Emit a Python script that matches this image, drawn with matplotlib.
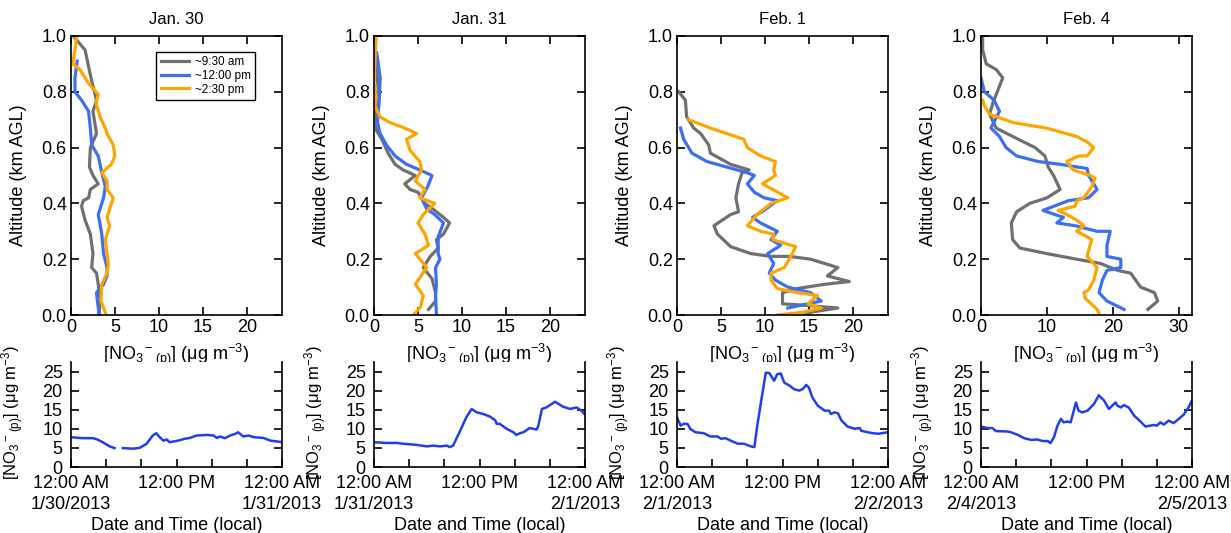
import matplotlib
matplotlib.use("Agg")
import matplotlib.pyplot as plt
import numpy as np

plt.rcParams['font.family'] = ['Liberation Sans', 'DejaVu Sans']
plt.rcParams['mathtext.fontset'] = 'custom'
plt.rcParams['mathtext.rm'] = 'Liberation Sans'
plt.rcParams['mathtext.it'] = 'Liberation Sans:italic'
plt.rcParams['mathtext.default'] = 'regular'

C_GRAY = '#707070'
C_BLUE = '#3d6ff5'
C_ORANGE = '#ffa500'
C_TS = '#1f3ff2'

TITLES = ["Jan. 30", "Jan. 31", "Feb. 1", "Feb. 4"]
XMAX = [24, 24, 24, 32]
XTICKS = [[0, 5, 10, 15, 20], [0, 5, 10, 15, 20], [0, 5, 10, 15, 20], [0, 10, 20, 30]]
LEGEND = ["~9:30 am", "~12:00 pm", "~2:30 pm"]
DATES = [("1/30/2013", "1/31/2013"), ("1/31/2013", "2/1/2013"),
         ("2/1/2013", "2/2/2013"), ("2/4/2013", "2/5/2013")]

# ---- vertical profiles: (nitrate, altitude) ----
jan30_gray_x = [0.27, 1.6, 2.0, 2.35, 2.9, 2.5, 2.9, 2.2, 2.1, 2.5, 3.1, 2.2, 2.0, 1.4, 1.2, 1.6, 2.2, 2.5, 2.35, 2.9, 3.1, 3.3, 3.2]
jan30_gray_y = [1.0, 0.95, 0.89, 0.84, 0.77, 0.73, 0.65, 0.60, 0.53, 0.50, 0.47, 0.45, 0.42, 0.41, 0.39, 0.34, 0.29, 0.22, 0.17, 0.15, 0.11, 0.05, 0.0]
jan30_blue_x = [0.7, 0.45, 0.45, 1.2, 2.0, 2.2, 2.35, 3.1, 3.5, 3.9, 3.7, 3.1, 3.5, 3.7, 4.1, 4.1, 3.7, 2.9, 3.2]
jan30_blue_y = [0.91, 0.85, 0.80, 0.77, 0.73, 0.67, 0.61, 0.57, 0.51, 0.46, 0.42, 0.36, 0.29, 0.22, 0.17, 0.14, 0.11, 0.08, 0.0]
jan30_orange_x = [0.65, 0.45, 0.2, 1.0, 2.0, 3.1, 2.85, 3.3, 3.9, 4.1, 4.8, 5.0, 4.6, 3.5, 4.1, 4.1, 4.8, 4.4, 4.1, 4.4, 3.9, 4.1, 4.25, 4.1, 3.5, 3.4, 4.0]
jan30_orange_y = [1.0, 0.95, 0.90, 0.88, 0.83, 0.79, 0.76, 0.71, 0.67, 0.65, 0.61, 0.57, 0.54, 0.51, 0.48, 0.45, 0.42, 0.38, 0.35, 0.32, 0.27, 0.22, 0.18, 0.15, 0.11, 0.05, 0.0]

jan31_gray_x = [0.1, 0.5, 0.2, 0.3, 0.9, 1.6, 2.4, 3.3, 4.7, 3.5, 4.1, 5.0, 5.8, 6.7, 7.9, 8.6, 7.9, 7.1, 7.3, 6.4, 5.6, 6.6, 7.0, 7.0, 6.2]
jan31_gray_y = [0.95, 0.80, 0.73, 0.66, 0.63, 0.58, 0.54, 0.52, 0.50, 0.47, 0.45, 0.44, 0.40, 0.38, 0.35, 0.33, 0.29, 0.27, 0.24, 0.21, 0.17, 0.13, 0.08, 0.05, 0.02]
jan31_blue_x = [0.3, 0.7, 0.6, 0.4, 0.7, 1.4, 2.4, 3.7, 5.2, 6.6, 6.1, 5.4, 6.0, 6.9, 7.9, 7.3, 7.3, 7.5, 7.0, 7.1, 7.0, 7.1]
jan31_blue_y = [0.94, 0.85, 0.77, 0.69, 0.65, 0.61, 0.57, 0.54, 0.52, 0.50, 0.46, 0.42, 0.38, 0.36, 0.33, 0.28, 0.22, 0.20, 0.17, 0.11, 0.07, 0.0]
jan31_orange_x = [0.25, 0.1, 0.0, 0.25, 0.1, 0.7, 1.8, 3.5, 4.85, 3.7, 4.1, 5.2, 5.4, 4.7, 5.8, 5.2, 6.9, 5.6, 5.0, 5.8, 6.2, 4.7, 6.0, 4.7, 5.6, 5.3, 4.5]
jan31_orange_y = [1.0, 0.91, 0.83, 0.78, 0.75, 0.71, 0.69, 0.67, 0.65, 0.63, 0.59, 0.55, 0.52, 0.48, 0.45, 0.42, 0.40, 0.36, 0.33, 0.29, 0.25, 0.22, 0.17, 0.11, 0.07, 0.03, 0.0]

feb1_gray_x = [0.2, 0.95, 1.1, 1.9, 2.7, 3.6, 3.8, 6.1, 8.2, 7.4, 7.0, 6.7, 7.0, 6.1, 4.2, 4.6, 6.1, 8.4, 10.7, 12.8, 15.2, 18.3, 17.1, 19.6, 16.8, 13.7, 12.0, 12.0, 14.5, 18.3, 15.2, 14.5]
feb1_gray_y = [0.80, 0.77, 0.71, 0.67, 0.65, 0.61, 0.58, 0.54, 0.52, 0.51, 0.47, 0.42, 0.37, 0.36, 0.32, 0.29, 0.245, 0.22, 0.21, 0.21, 0.20, 0.17, 0.14, 0.12, 0.11, 0.095, 0.08, 0.04, 0.035, 0.025, 0.01, 0.0]
feb1_blue_x = [0.4, 0.76, 1.7, 3.4, 5.7, 8.0, 8.8, 8.0, 8.8, 9.9, 11.4, 9.9, 8.6, 9.5, 11.4, 10.7, 11.8, 10.3, 11.0, 10.5, 11.2, 12.6, 15.2, 16.4, 14.1, 12.6]
feb1_blue_y = [0.67, 0.63, 0.58, 0.55, 0.53, 0.51, 0.50, 0.47, 0.44, 0.42, 0.41, 0.375, 0.35, 0.33, 0.30, 0.27, 0.25, 0.22, 0.185, 0.15, 0.125, 0.10, 0.08, 0.05, 0.035, 0.025]
feb1_orange_x = [1.3, 3.8, 7.6, 8.0, 9.5, 11.2, 11.0, 11.2, 9.7, 10.9, 12.6, 10.7, 9.1, 8.0, 9.5, 11.0, 10.9, 13.5, 12.95, 12.2, 10.7, 10.7, 11.4, 13.7, 16.0, 14.9, 16.4, 14.3, 11.4]
feb1_orange_y = [0.70, 0.67, 0.63, 0.60, 0.57, 0.55, 0.52, 0.50, 0.47, 0.45, 0.42, 0.40, 0.36, 0.32, 0.30, 0.29, 0.27, 0.245, 0.21, 0.17, 0.15, 0.125, 0.095, 0.08, 0.07, 0.04, 0.025, 0.01, 0.0]

feb4_gray_x = [0.25, 0.25, 0.8, 2.3, 3.3, 2.3, 1.8, 1.3, 2.3, 4.8, 8.2, 9.7, 10.2, 11.0, 12.0, 10.0, 7.4, 5.4, 4.6, 4.8, 5.9, 10.0, 14.5, 18.1, 20.7, 22.7, 24.2, 26.3, 26.8, 25.3]
feb4_gray_y = [1.0, 0.95, 0.90, 0.88, 0.85, 0.79, 0.76, 0.72, 0.67, 0.64, 0.60, 0.57, 0.53, 0.50, 0.45, 0.42, 0.40, 0.37, 0.33, 0.27, 0.24, 0.22, 0.20, 0.185, 0.16, 0.15, 0.10, 0.08, 0.05, 0.02]
feb4_blue_x = [0.0, 0.5, 2.0, 2.8, 1.5, 2.8, 3.8, 5.4, 8.7, 12.0, 16.1, 16.3, 17.1, 17.6, 16.3, 13.3, 9.4, 11.2, 12.5, 11.5, 14.3, 17.6, 19.6, 19.1, 19.1, 21.2, 21.2, 19.1, 18.4, 17.9, 19.1, 21.7]
feb4_blue_y = [0.85, 0.80, 0.77, 0.73, 0.67, 0.64, 0.60, 0.57, 0.55, 0.54, 0.525, 0.50, 0.47, 0.45, 0.42, 0.41, 0.375, 0.36, 0.35, 0.33, 0.32, 0.30, 0.30, 0.25, 0.21, 0.20, 0.17, 0.16, 0.125, 0.08, 0.05, 0.02]
feb4_orange_x = [0.25, 0.5, 1.3, 4.8, 9.9, 14.5, 16.1, 17.1, 16.1, 14.8, 13.0, 14.0, 16.6, 17.3, 16.8, 15.6, 14.5, 14.3, 11.7, 13.0, 14.5, 15.6, 14.5, 16.1, 16.8, 16.3, 16.1, 17.6, 17.1, 16.3, 15.6, 15.8, 17.6, 18.0]
feb4_orange_y = [0.77, 0.75, 0.72, 0.69, 0.67, 0.64, 0.62, 0.60, 0.57, 0.57, 0.55, 0.52, 0.50, 0.49, 0.46, 0.42, 0.41, 0.39, 0.375, 0.36, 0.34, 0.32, 0.30, 0.28, 0.27, 0.23, 0.21, 0.17, 0.125, 0.09, 0.08, 0.06, 0.02, 0.0]

# ---- ground time series: hours since midnight, nitrate ----
jan30_hr = [0, 1.3, 2.5, 3.0, 3.6, 4.4, 4.95, 5.4, 5.9, 7.0, 7.8, 8.6, 9.3, 9.7, 10.1, 10.5, 10.9, 11.2, 12.0, 12.95, 13.5, 14.3, 15.4, 16.2, 16.6, 16.95, 17.5, 18.1, 18.7, 19.0, 19.6, 20.2, 20.8, 21.9, 22.7, 23.4, 24]
jan30_no3 = [7.8, 7.55, 7.55, 7.2, 6.5, 5.4, 4.95, np.nan, 4.95, 4.8, 5.0, 6.1, 8.25, 8.85, 7.8, 6.9, 7.2, 6.5, 6.8, 7.4, 7.6, 8.25, 8.4, 8.25, 7.6, 8.0, 7.55, 8.25, 8.7, 9.1, 8.0, 8.25, 7.8, 7.6, 6.9, 6.7, 6.5]
jan31_hr = [0, 1.4, 2.6, 3.3, 4.85, 6.0, 6.75, 7.5, 8.3, 8.6, 9.0, 9.8, 10.5, 11.1, 11.3, 11.7, 12.4, 13.2, 13.8, 13.95, 14.3, 15.1, 15.85, 16.2, 16.6, 17.0, 17.7, 18.5, 18.7, 19.1, 19.6, 20.2, 20.6, 21.0, 21.5, 22.3, 23.05, 23.6, 24]
jan31_no3 = [6.5, 6.3, 6.3, 6.1, 5.8, 5.4, 5.6, 5.4, 5.6, 5.2, 5.6, 9.5, 13.0, 15.2, 14.9, 14.3, 13.9, 13.2, 12.2, 11.3, 11.3, 10.0, 9.1, 8.4, 8.85, 9.1, 10.2, 9.8, 10.85, 15.2, 15.6, 16.5, 17.1, 16.5, 15.8, 15.2, 15.6, 14.75, 13.7]
feb1_hr = [0, 0.4, 0.76, 1.2, 1.5, 2.1, 3.05, 3.8, 4.6, 5.0, 5.5, 6.1, 6.9, 7.6, 8.4, 8.8, 9.1, 9.7, 10.1, 10.5, 11.05, 11.4, 11.8, 12.2, 12.8, 13.3, 13.9, 14.3, 14.7, 15.0, 15.4, 16.0, 16.8, 17.3, 17.5, 17.9, 18.3, 18.7, 19.4, 20.2, 20.8, 20.95, 21.7, 22.3, 22.9, 23.4, 24]
feb1_no3 = [13.0, 10.85, 11.3, 11.3, 10.0, 9.1, 8.85, 8.0, 8.0, 7.4, 7.55, 6.9, 6.1, 6.1, 5.4, 5.2, 10.4, 19.1, 24.7, 24.6, 22.6, 24.3, 24.5, 22.1, 21.3, 20.4, 20.0, 20.4, 21.5, 20.8, 18.2, 16.1, 14.75, 14.75, 13.9, 14.3, 14.1, 12.2, 10.6, 10.0, 10.2, 9.5, 9.1, 8.85, 8.7, 8.9, 9.1]
feb4_hr = [0, 0.76, 1.3, 1.7, 3.0, 3.4, 4.2, 4.9, 5.7, 6.4, 7.0, 7.6, 7.9, 8.3, 8.7, 9.1, 9.4, 9.8, 10.2, 10.8, 11.1, 11.5, 12.1, 12.85, 13.4, 14.0, 14.55, 15.3, 15.5, 15.9, 16.25, 16.8, 17.4, 18.1, 18.7, 19.3, 19.65, 20.0, 20.4, 20.8, 21.35, 21.9, 22.5, 23.05, 23.6, 24]
feb4_no3 = [10.6, 10.2, 10.2, 9.4, 9.3, 9.1, 8.4, 7.55, 7.1, 7.2, 6.8, 6.8, 6.25, 7.8, 10.85, 12.6, 11.7, 11.9, 11.7, 16.9, 14.75, 14.3, 14.75, 16.5, 18.8, 17.4, 15.2, 16.9, 16.1, 15.6, 16.2, 15.6, 13.5, 12.0, 10.6, 10.85, 11.0, 10.85, 11.7, 11.1, 12.15, 11.5, 12.6, 13.7, 15.6, 17.4]

profiles = [
    [(jan30_gray_x, jan30_gray_y), (jan30_blue_x, jan30_blue_y), (jan30_orange_x, jan30_orange_y)],
    [(jan31_gray_x, jan31_gray_y), (jan31_blue_x, jan31_blue_y), (jan31_orange_x, jan31_orange_y)],
    [(feb1_gray_x, feb1_gray_y), (feb1_blue_x, feb1_blue_y), (feb1_orange_x, feb1_orange_y)],
    [(feb4_gray_x, feb4_gray_y), (feb4_blue_x, feb4_blue_y), (feb4_orange_x, feb4_orange_y)],
]
series = [(jan30_hr, jan30_no3), (jan31_hr, jan31_no3), (feb1_hr, feb1_no3), (feb4_hr, feb4_no3)]

NO3_LABEL = r"[NO$_3$$^-$$_{(p)}$] (μg m$^{-3}$)"
FS = 13

fig = plt.figure(figsize=(12.31, 5.33), dpi=100)
lefts = [71, 374, 677, 981]

for i in range(4):
    left = lefts[i] / 1231
    w = 211 / 1231
    ax = fig.add_axes([left, 1 - 315 / 533, w, 279 / 533])
    for (x, y), c, lab in zip(profiles[i], [C_GRAY, C_BLUE, C_ORANGE], LEGEND):
        ax.plot(x, y, color=c, lw=2.3, label=lab, solid_joinstyle='round')
    ax.set_xlim(0, XMAX[i])
    ax.set_ylim(0, 1.0)
    ax.set_xticks(XTICKS[i])
    ax.set_yticks([0, 0.2, 0.4, 0.6, 0.8, 1.0])
    ax.set_yticklabels(["0.0", "0.2", "0.4", "0.6", "0.8", "1.0"])
    ax.tick_params(direction='in', top=True, right=True, length=6, width=1.2,
                   labelsize=FS, pad=3)
    for s in ax.spines.values():
        s.set_linewidth(1.2)
    ax.set_title(TITLES[i], fontsize=12, pad=9)
    ax.set_ylabel("Altitude (km AGL)", fontsize=FS)
    ax.yaxis.set_label_coords(-0.21, 0.5)
    ax.set_xlabel(NO3_LABEL, fontsize=FS, labelpad=4)
    if i == 0:
        ax.legend(loc='upper right', bbox_to_anchor=(0.872, 0.943), borderaxespad=0,
                  fontsize=8.5, fancybox=False, edgecolor='black', framealpha=1,
                  handlelength=2.4, handletextpad=0.5, borderpad=0.35, labelspacing=0.15)

    bx = fig.add_axes([left, 1 - 467 / 533, w, 105 / 533])
    hr, val = series[i]
    bx.plot(hr, val, color=C_TS, lw=1.8)
    bx.set_xlim(0, 24)
    bx.set_ylim(0, 27.5)
    bx.set_yticks([0, 5, 10, 15, 20, 25])
    bx.set_xticks([0, 4, 8, 12, 16, 20, 24])
    d0, d1 = DATES[i]
    bx.set_xticklabels(["12:00 AM\n" + d0, "", "", "12:00 PM", "", "", "12:00 AM\n" + d1],
                       linespacing=1.25)
    bx.tick_params(direction='in', right=True, length=6, width=1.2, labelsize=FS, pad=6)
    bx.spines['top'].set_visible(False)
    for s in bx.spines.values():
        s.set_linewidth(1.2)
    bx.set_xlabel("Date and Time (local)", fontsize=FS, labelpad=3)
    bx.set_ylabel(NO3_LABEL, fontsize=12)
    bx.yaxis.set_label_coords(-0.215, 0.52)

fig.savefig("out.png", dpi=100)
